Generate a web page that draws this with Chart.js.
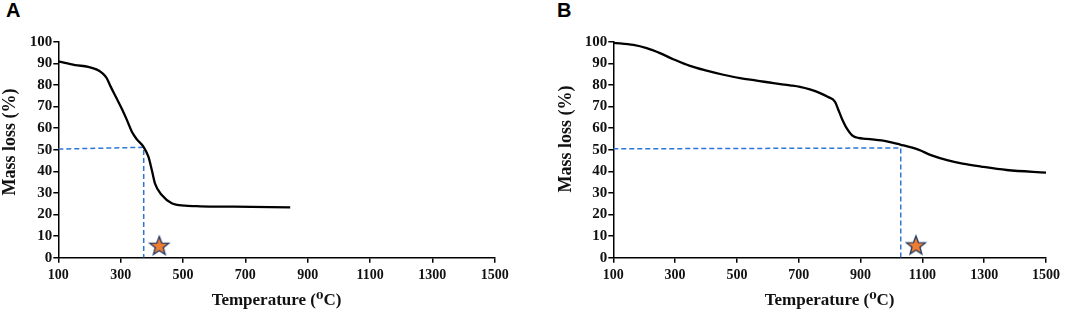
<!DOCTYPE html>
<html>
<head>
<meta charset="utf-8">
<script src="https://cdn.jsdelivr.net/npm/chart.js@4"></script>
<style>
  html, body { margin: 0; padding: 0; background: #ffffff; }
  #wrap { position: relative; width: 1065px; height: 312px; overflow: hidden; }
  canvas { position: absolute; top: 0; }
  .panel { position: absolute; font: bold 20px 'Liberation Sans', Arial, sans-serif; color: #000; }
</style>
</head>
<body>
<div id="wrap">
  <div class="panel" id="labA" style="left:6px; top:-1px;">A</div>
  <div class="panel" id="labB" style="left:557px; top:-1px;">B</div>
  <canvas id="cA" width="532" height="312" style="left:0px;"></canvas>
  <canvas id="cB" width="533" height="312" style="left:532px;"></canvas>
</div>
<script>
// ---------- DATA ----------
const xTicks = [100, 300, 500, 700, 900, 1100, 1300, 1500];
const yTicks = [0, 10, 20, 30, 40, 50, 60, 70, 80, 90, 100];

const tempA = [100, 154, 196, 222, 240, 255, 268, 287, 303, 320, 336, 352, 373, 389, 400, 410, 432, 464, 507, 555, 662, 844];
const massA = [90.9, 89.2, 88.4, 87.2, 85.6, 83.2, 79.2, 73.8, 69.2, 63.8, 58.3, 54.8, 51.4, 46.8, 40.6, 34.4, 29.0, 25.2, 24.1, 23.8, 23.6, 23.3];
const guideTempA = [100, 374, 374];
const guideMassA = [50.3, 51.1, 0];
const starTempA = [424];
const starMassA = [5.5];

const tempB = [100, 165, 208, 251, 294, 348, 402, 456, 510, 564, 618, 672, 704, 736, 769, 795, 817, 828, 839, 855, 877, 920, 985, 1028, 1087, 1130, 1180, 1230, 1290, 1373, 1500];
const massB = [99.5, 98.5, 97.0, 94.7, 91.9, 88.8, 86.6, 84.7, 83.1, 82.0, 80.8, 79.8, 79.1, 77.9, 76.2, 74.4, 72.3, 68.5, 64.6, 60.0, 56.2, 55.0, 53.9, 52.4, 50.0, 47.4, 45.2, 43.6, 42.2, 40.6, 39.4];
const guideTempB = [100, 1030, 1030];
const guideMassB = [50.4, 50.8, 0];
const starTempB = [1079];
const starMassB = [5.7];

const yTitleText = 'Mass loss (%)';
const xTitleText = 'Temperature (\u2070C)';

// ---------- STYLE ----------
const serif = "'Liberation Serif', 'Times New Roman', 'DejaVu Serif', serif";
const guideColor = '#2E75D6';

function makeStar() {
  const c = document.createElement('canvas');
  c.width = 24; c.height = 24;
  const g = c.getContext('2d');
  const cx = 12, cy = 12.5, R = 10, r = 4.2;
  g.beginPath();
  for (let i = 0; i < 10; i++) {
    const rad = i % 2 === 0 ? R : r;
    const a = -Math.PI / 2 + i * Math.PI / 5;
    const px = cx + rad * Math.cos(a), py = cy + rad * Math.sin(a);
    if (i === 0) g.moveTo(px, py); else g.lineTo(px, py);
  }
  g.closePath();
  g.fillStyle = '#ED7D31';
  g.fill();
  g.lineWidth = 1.3;
  g.strokeStyle = '#1F3864';
  g.stroke();
  return c;
}
const starImg = makeStar();

// rotated y-axis title drawn at a chosen centre
const yTitlePlugin = {
  id: 'yTitle',
  afterDraw(chart, args, opts) {
    const ctx = chart.ctx;
    ctx.save();
    ctx.translate(opts.x, opts.y);
    ctx.rotate(-Math.PI / 2);
    ctx.font = 'bold 18px ' + serif;
    ctx.fillStyle = '#111';
    ctx.textAlign = 'center';
    ctx.textBaseline = 'middle';
    ctx.fillText(yTitleText, 0, 0);
    ctx.restore();
  }
};

function zip(xs, ys) { return xs.map((x, i) => ({ x: x, y: ys[i] })); }

function buildChart(id, temps, mass, gT, gM, sT, sM, pad, yWidth, yTitlePos) {
  const ctx = document.getElementById(id);
  return new Chart(ctx, {
    type: 'scatter',
    plugins: [yTitlePlugin],
    data: {
      datasets: [
        {
          data: zip(gT, gM), showLine: true, borderColor: guideColor, borderWidth: 1.5,
          borderDash: [5, 3], pointRadius: 0, tension: 0, order: 2
        },
        {
          data: zip(temps, mass), showLine: true, borderColor: '#000000', borderWidth: 2.3,
          pointRadius: 0, cubicInterpolationMode: 'monotone', order: 1
        },
        {
          data: zip(sT, sM), showLine: false, pointStyle: starImg, pointRadius: 10, order: 0
        }
      ]
    },
    options: {
      responsive: false,
      animation: false,
      devicePixelRatio: 1,
      layout: { padding: pad },
      plugins: {
        legend: { display: false }, tooltip: { enabled: false }, title: { display: false },
        yTitle: yTitlePos
      },
      scales: {
        x: {
          type: 'linear', min: xTicks[0], max: xTicks[xTicks.length - 1],
          afterBuildTicks: (s) => { s.ticks = xTicks.map(v => ({ value: v })); },
          afterFit: (s) => { s.height = 54.3; },
          border: { display: true, color: '#000', width: 1.5 },
          grid: { display: true, drawOnChartArea: false, drawTicks: true, tickLength: 5, color: '#000', lineWidth: 1.5 },
          ticks: {
            color: '#111', padding: 4, maxRotation: 0, autoSkip: false,
            font: { family: serif, size: 14, weight: 'bold' },
            callback: (v) => String(v)
          },
          title: {
            display: true, text: xTitleText, color: '#111',
            font: { family: serif, size: 17, weight: 'bold' }, padding: { top: 0, bottom: 1 }
          }
        },
        y: {
          type: 'linear', min: 0, max: 100,
          afterBuildTicks: (s) => { s.ticks = yTicks.map(v => ({ value: v })); },
          afterFit: (s) => { s.width = yWidth; },
          border: { display: true, color: '#000', width: 1.5 },
          grid: { display: true, drawOnChartArea: false, drawTicks: true, tickLength: 5, color: '#000', lineWidth: 1.5 },
          ticks: {
            color: '#111', padding: 1, autoSkip: false,
            font: { family: serif, size: 15, weight: 'bold' },
            callback: (v) => String(v)
          },
          title: { display: false }
        }
      }
    }
  });
}

buildChart('cA', tempA, massA, guideTempA, guideMassA, starTempA, starMassA,
  { left: 0, right: 37.3, top: 41.7, bottom: 0 }, 58.3, { x: 10, y: 142 });
buildChart('cB', tempB, massB, guideTempB, guideMassB, starTempB, starMassB,
  { left: 24, right: 19, top: 41.7, bottom: 0 }, 57.3, { x: 34, y: 139 });
</script>
</body>
</html>
